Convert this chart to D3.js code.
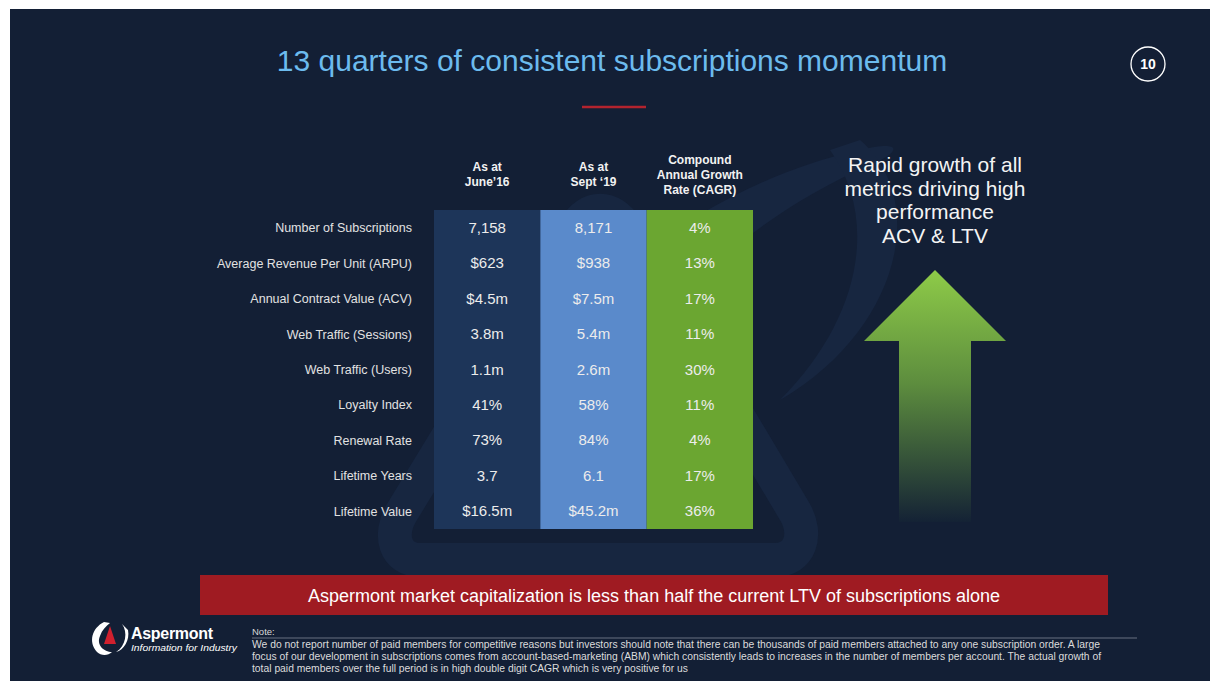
<!DOCTYPE html>
<html lang="en">
<head>
  <meta charset="utf-8">
  <title>13 quarters of consistent subscriptions momentum</title>
  <script src="https://cdnjs.cloudflare.com/ajax/libs/d3/7.8.5/d3.min.js"></script>
  <style>
    html, body { margin: 0; padding: 0; background: #ffffff; }
    svg { display: block; font-family: "Liberation Sans", Arial, sans-serif; }
  </style>
</head>
<body>
<svg id="slide"></svg>
<script>
// table data
var metrics = ["Number of Subscriptions", "Average Revenue Per Unit (ARPU)", "Annual Contract Value (ACV)",
  "Web Traffic (Sessions)", "Web Traffic (Users)", "Loyalty Index", "Renewal Rate", "Lifetime Years", "Lifetime Value"];
var june16 = ["7,158", "$623", "$4.5m", "3.8m", "1.1m", "41%", "73%", "3.7", "$16.5m"];
var sept19 = ["8,171", "$938", "$7.5m", "5.4m", "2.6m", "58%", "84%", "6.1", "$45.2m"];
var cagr = ["4%", "13%", "17%", "11%", "30%", "11%", "4%", "17%", "36%"];
var headers = [["As at", "June\u201916"], ["As at", "Sept \u201819"], ["Compound", "Annual Growth", "Rate (CAGR)"]];
var colColors = ["#1d3559", "#5a8acb", "#6ba631"];
var sideText = ["Rapid growth of all", "metrics driving high", "performance", "ACV & LTV"];
var noteLines = [
  "We do not report number of paid members for competitive reasons but investors should note that there can be thousands of paid members attached to any one subscription order.  A large",
  "focus of our development in subscriptions comes from account-based-marketing (ABM) which consistently leads to increases in the number of members per account. The actual growth of",
  "total paid members over the full period is in high double digit CAGR which is very positive for us"
];
var noteWidths = [848, 849, 436];

var W = 1210, H = 681;
var svg = d3.select("#slide").attr("width", W).attr("height", H);

var defs = svg.append("defs");
var grad = defs.append("linearGradient").attr("id", "arrowGrad")
  .attr("x1", 0).attr("y1", 0).attr("x2", 0).attr("y2", 1);
grad.append("stop").attr("offset", "0%").attr("stop-color", "#8ecb48");
grad.append("stop").attr("offset", "45%").attr("stop-color", "#5d8d3e");
grad.append("stop").attr("offset", "100%").attr("stop-color", "#142235");

// slide background
svg.append("rect").attr("x", 10).attr("y", 9).attr("width", W - 10).attr("height", H - 9).attr("fill", "#131f35");

// faint watermark
svg.append("path")
  .attr("d", "M420,560 C395,560 388,535 402,512 L575,228 C588,205 612,205 626,228 L795,512 C808,535 800,560 775,560 Z")
  .attr("fill", "none").attr("stroke", "#172640").attr("stroke-width", 34);
svg.append("path")
  .attr("d", "M440,520 C520,330 680,190 860,150 C900,140 905,150 870,165 C720,230 600,360 520,520 Z")
  .attr("fill", "#172640");
svg.append("path")
  .attr("d", "M860,140 C930,200 900,330 780,400 C860,320 880,220 830,150 Z")
  .attr("fill", "#172640");

// title
svg.append("text").attr("x", 612).attr("y", 71).attr("text-anchor", "middle")
  .attr("fill", "#6cbbee").style("font-size", "30px")
  .text("13 quarters of consistent subscriptions momentum");
svg.append("line").attr("x1", 582).attr("x2", 646).attr("y1", 107).attr("y2", 107)
  .attr("stroke", "#b3232e").attr("stroke-width", 2.5);

// page number
svg.append("circle").attr("cx", 1148).attr("cy", 64).attr("r", 17)
  .attr("fill", "none").attr("stroke", "#ffffff").attr("stroke-width", 1.3);
svg.append("text").attr("x", 1148).attr("y", 69).attr("text-anchor", "middle")
  .attr("fill", "#ffffff").attr("font-weight", "bold").style("font-size", "14px").text("10");

// table
var cols = [june16, sept19, cagr];
var x = d3.scaleBand().domain(d3.range(cols.length)).range([434, 753]);
var y = d3.scaleBand().domain(d3.range(metrics.length)).range([210, 529]);

var colG = svg.selectAll(".col").data(cols).enter().append("g").attr("class", "col");
colG.append("rect")
  .attr("x", function(d, i) { return x(i); })
  .attr("y", y.range()[0])
  .attr("width", x.bandwidth())
  .attr("height", y.range()[1] - y.range()[0])
  .attr("fill", function(d, i) { return colColors[i]; });
colG.each(function(col, ci) {
  d3.select(this).selectAll("text").data(col).enter().append("text")
    .attr("x", x(ci) + x.bandwidth() / 2)
    .attr("y", function(d, i) { return y(i) + y.bandwidth() / 2 + 5; })
    .attr("text-anchor", "middle")
    .attr("fill", "#ececec")
    .style("font-size", "15px")
    .text(function(d) { return d; });
});

svg.selectAll(".rowlabel").data(metrics).enter().append("text")
  .attr("class", "rowlabel")
  .attr("x", 412)
  .attr("y", function(d, i) { return y(i) + y.bandwidth() / 2 + 4.5; })
  .attr("text-anchor", "end")
  .attr("fill", "#e2e2e2")
  .style("font-size", "12.5px")
  .text(function(d) { return d; });

headers.forEach(function(lines, ci) {
  var top = lines.length === 2 ? 171 : 164;
  var t = svg.append("text").attr("text-anchor", "middle").attr("fill", "#f2f2f2")
    .attr("font-weight", "bold").style("font-size", "12px");
  lines.forEach(function(l, li) {
    t.append("tspan").attr("x", x(ci) + x.bandwidth() / 2).attr("y", top + li * 15).text(l);
  });
});

// side text and arrow
var side = svg.append("text").attr("text-anchor", "middle").attr("fill", "#f4f4f4").style("font-size", "21px");
sideText.forEach(function(l, i) {
  side.append("tspan").attr("x", 935).attr("y", 172 + i * 23.5).text(l);
});
svg.append("path")
  .attr("d", "M935,270 L1006,341 L971,341 L971,522 L899,522 L899,341 L864,341 Z")
  .attr("fill", "url(#arrowGrad)");

// banner
svg.append("rect").attr("x", 200).attr("y", 575).attr("width", 908).attr("height", 40).attr("fill", "#9f1b22");
svg.append("text").attr("x", 654).attr("y", 602).attr("text-anchor", "middle")
  .attr("fill", "#ffffff").style("font-size", "18px")
  .text("Aspermont market capitalization is less than half the current LTV of subscriptions alone");

// logo
var logo = svg.append("g");
logo.append("path")
  .attr("d", "M104,622 C92,628 88,642 97,652 C101,656 108,656 112,652 C104,652 96,645 100,636 C102,630 106,626 110,623 Z")
  .attr("fill", "#ffffff");
logo.append("path")
  .attr("d", "M122,624 C128,632 126,646 116,652 C124,650 130,640 128,630 Z")
  .attr("fill", "#ffffff");
logo.append("path").attr("d", "M110,626 L116,644 L104,644 Z").attr("fill", "#d0202e");
logo.append("text").attr("x", 131).attr("y", 639).attr("fill", "#ffffff")
  .attr("font-weight", "bold").style("font-size", "16px").attr("textLength", 82).text("Aspermont");
logo.append("text").attr("x", 131).attr("y", 651).attr("fill", "#ffffff")
  .attr("font-style", "italic").style("font-size", "9.5px").attr("textLength", 106)
  .attr("lengthAdjust", "spacingAndGlyphs").text("Information for Industry");

// note
svg.append("text").attr("x", 252).attr("y", 635).attr("fill", "#d8d8d8").style("font-size", "9.5px").text("Note:");
svg.append("line").attr("x1", 252).attr("x2", 1137).attr("y1", 638).attr("y2", 638)
  .attr("stroke", "#7d8594").attr("stroke-width", 0.8);
svg.selectAll(".note").data(noteLines).enter().append("text")
  .attr("class", "note")
  .attr("x", 252)
  .attr("y", function(d, i) { return 648 + i * 12; })
  .attr("fill", "#dcdcdc")
  .style("font-size", "10px")
  .attr("textLength", function(d, i) { return noteWidths[i]; })
  .attr("lengthAdjust", "spacingAndGlyphs")
  .text(function(d) { return d; });
</script>
</body>
</html>
